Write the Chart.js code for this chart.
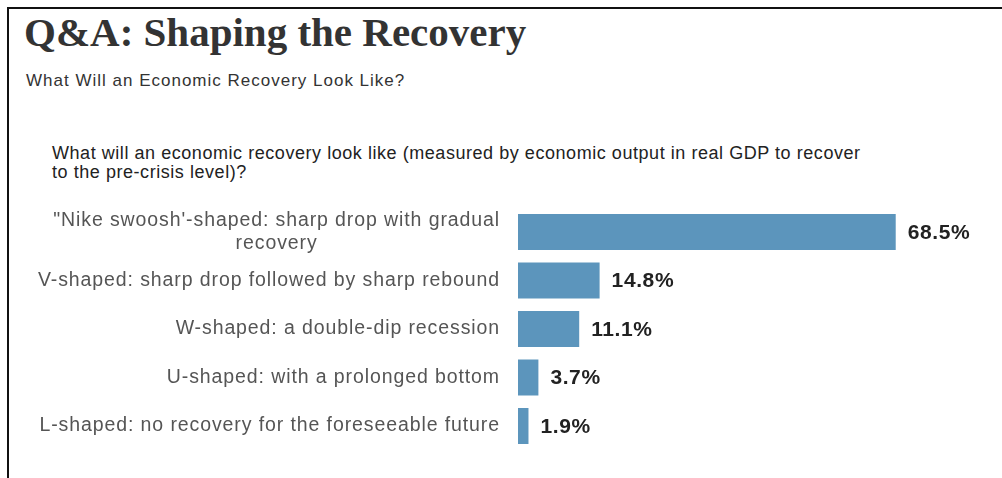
<!DOCTYPE html>
<html>
<head>
  <title>Q&amp;A: Shaping the Recovery</title>
  <meta charset="UTF-8">
  <script src="https://cdn.jsdelivr.net/npm/chart.js@4/dist/chart.umd.min.js"></script>
</head>
<style>
  body { margin: 0; background: #fff; width: 1002px; height: 478px; overflow: hidden; position: relative; }
  #frame { position: absolute; left: 7px; top: 7px; width: 995px; height: 471px;
           border-top: 2px solid #111; border-left: 2px solid #111; box-sizing: border-box; }
  .txt { position: absolute; white-space: nowrap; }
  #title { left: 24px; top: 12px; font: bold 41px "Liberation Serif", "Times New Roman", serif; line-height: 41px; color: #333; }
  #subtitle { left: 26px; top: 72px; font: 17px "Liberation Sans", Arial, sans-serif; line-height: 17px; color: #333; letter-spacing: 1px; }
  #question { left: 52px; top: 144px; font: 18px "Liberation Sans", Arial, sans-serif; line-height: 19px; color: #222; letter-spacing: 0.55px; }
  #wrap { position: absolute; left: 0; top: 190px; width: 1002px; height: 280px; }
</style>
<body>
  <div id="frame"></div>
  <div class="txt" id="title">Q&amp;A: Shaping the Recovery</div>
  <div class="txt" id="subtitle">What Will an Economic Recovery Look Like?</div>
  <div class="txt" id="question">What will an economic recovery look like (measured by economic output in real GDP to recover<br>to the pre-crisis level)?</div>
  <div id="wrap"><canvas id="myChart"></canvas></div>

<script type="text/javascript">
  // survey answers, top to bottom
  var categories = [
    ["\"Nike swoosh'-shaped: sharp drop with gradual", "recovery"],
    "V-shaped: sharp drop followed by sharp rebound",
    "W-shaped: a double-dip recession",
    "U-shaped: with a prolonged bottom",
    "L-shaped: no recovery for the foreseeable future"
  ];
  var shares = [68.5, 14.8, 11.1, 3.7, 1.9];

  // category names to the left of the bars, right aligned
  var categoryLabels = {
    id: 'categoryLabels',
    afterDraw: function (chart) {
      var ctx = chart.ctx;
      var yScale = chart.scales.y;
      var right = 500;
      ctx.save();
      ctx.font = '19.5px "Liberation Sans", Arial, sans-serif';
      ctx.letterSpacing = '0.9px';
      ctx.fillStyle = '#555';
      ctx.textBaseline = 'middle';
      for (var i = 0; i < categories.length; i++) {
        var y = yScale.getPixelForValue(i);
        var lab = categories[i];
        if (Array.isArray(lab)) {
          var w1 = ctx.measureText(lab[0]).width;
          ctx.textAlign = 'right';
          ctx.fillText(lab[0], right, y - 11.5);
          ctx.textAlign = 'center';
          ctx.fillText(lab[1], right - w1 / 2, y + 11.5);
        } else {
          ctx.textAlign = 'right';
          ctx.fillText(lab, right, y);
        }
      }
      ctx.restore();
    }
  };

  // percentage next to each bar end
  var valueLabels = {
    id: 'valueLabels',
    afterDatasetsDraw: function (chart) {
      var ctx = chart.ctx;
      var meta = chart.getDatasetMeta(0);
      ctx.save();
      ctx.font = 'bold 21px "Liberation Sans", Arial, sans-serif';
      ctx.letterSpacing = '0.6px';
      ctx.fillStyle = '#222';
      ctx.textAlign = 'left';
      ctx.textBaseline = 'middle';
      meta.data.forEach(function (bar, i) {
        ctx.fillText(shares[i].toFixed(1) + '%', bar.x + 12, bar.y + 1);
      });
      ctx.restore();
    }
  };

  var ctx = document.getElementById('myChart');
  var myChart = new Chart(ctx, {
    type: 'bar',
    data: {
      labels: categories,
      datasets: [{
        data: shares,
        backgroundColor: '#5c95bc',
        borderWidth: 0,
        barPercentage: 0.742,
        categoryPercentage: 1
      }]
    },
    options: {
      indexAxis: 'y',
      responsive: true,
      maintainAspectRatio: false,
      animation: false,
      layout: { padding: { left: 518, right: 15.3, top: 17.75, bottom: 19.75 } },
      plugins: { legend: { display: false }, tooltip: { enabled: false } },
      scales: {
        x: { display: false, min: 0, max: 85 },
        y: { display: false }
      }
    },
    plugins: [categoryLabels, valueLabels]
  });
</script>
</body>
</html>
